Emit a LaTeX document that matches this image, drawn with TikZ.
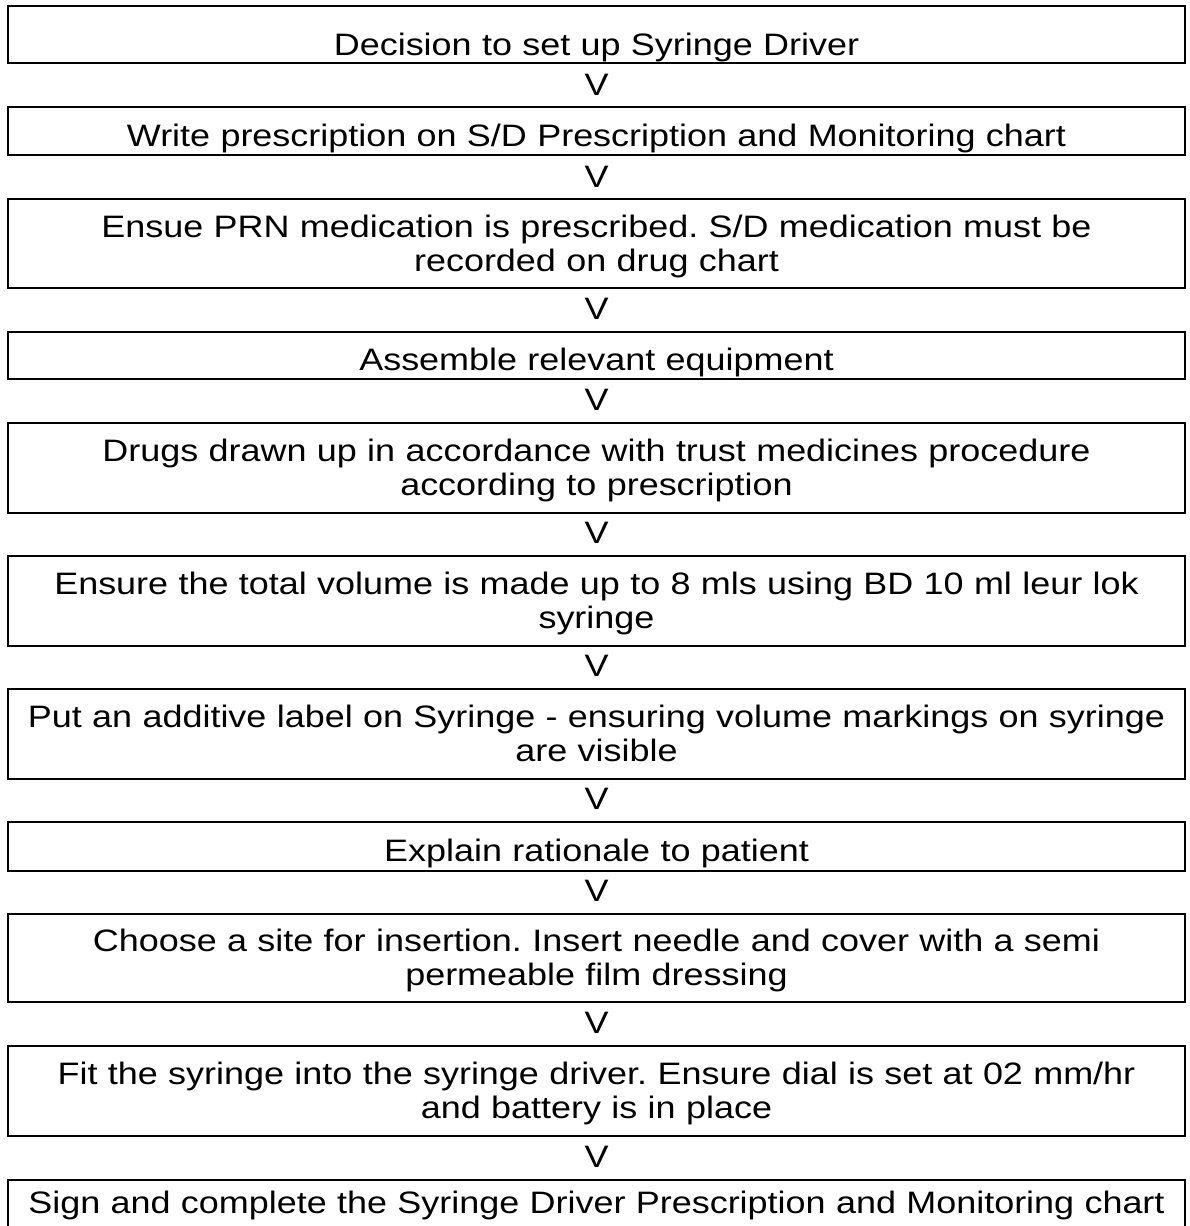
\documentclass[tikz,border=0pt]{standalone}
\usepackage{fontspec}
\setmainfont{Liberation Sans}[FakeStretch=1.16]
\frenchspacing
\begin{document}
\begin{tikzpicture}[x=1pt,y=-1pt,
  stepbox/.style={draw=black, line width=2pt, rectangle, inner sep=0pt,
    minimum width=1177pt, text width=1170pt, align=center,
    font=\fontsize{31}{34}\selectfont},
  oneline/.style={text height=30pt, text depth=0pt},
  twoline/.style={text height=21pt, text depth=34pt},
  vmark/.style={inner sep=0pt, font=\fontsize{31}{32}\selectfont, text height=22pt, text depth=0pt}]
\useasboundingbox (0,0) rectangle (1189,1226);
\fill[white] (0,0) rectangle (1189,1226);
\node[stepbox, minimum height=57pt, text height=42pt, text depth=0pt] (b1) at (596.5,34.5) {Decision to set up Syringe Driver};
\node[stepbox, oneline, minimum height=48pt] (b2) at (596.5,131) {Write prescription on S/D Prescription and Monitoring chart};
\node[stepbox, twoline, minimum height=89pt] (b3) at (596.5,243.5) {Ensue PRN medication is prescribed. S/D medication must be\\recorded on drug chart};
\node[stepbox, oneline, minimum height=47pt] (b4) at (596.5,355.5) {Assemble relevant equipment};
\node[stepbox, twoline, minimum height=90pt] (b5) at (596.5,468) {Drugs drawn up in accordance with trust medicines procedure\\according to prescription};
\node[stepbox, twoline, minimum height=90pt] (b6) at (596.5,601) {Ensure the total volume is made up to 8 mls using BD 10 ml leur lok\\syringe};
\node[stepbox, twoline, minimum height=90pt] (b7) at (596.5,734) {Put an additive label on Syringe - ensuring volume markings on syringe\\are visible};
\node[stepbox, oneline, minimum height=49pt] (b8) at (596.5,846.5) {Explain rationale to patient};
\node[stepbox, twoline, minimum height=88pt] (b9) at (596.5,958) {Choose a site for insertion. Insert needle and cover with a semi\\permeable film dressing};
\node[stepbox, twoline, minimum height=90pt] (b10) at (596.5,1091) {Fit the syringe into the syringe driver. Ensure dial is set at 02 mm/hr\\and battery is in place};
\node[stepbox, minimum height=57pt, text height=22pt, text depth=13pt] (b11) at (596.5,1208.5) {Sign and complete the Syringe Driver Prescription and Monitoring chart};
\node[vmark] (v1) at (596.5,84) {V};
\node[vmark] (v2) at (596.5,176) {V};
\node[vmark] (v3) at (596.5,308) {V};
\node[vmark] (v4) at (596.5,399) {V};
\node[vmark] (v5) at (596.5,532.5) {V};
\node[vmark] (v6) at (596.5,665.5) {V};
\node[vmark] (v7) at (596.5,798.5) {V};
\node[vmark] (v8) at (596.5,890.5) {V};
\node[vmark] (v9) at (596.5,1022) {V};
\node[vmark] (v10) at (596.5,1156) {V};
\end{tikzpicture}
\end{document}
